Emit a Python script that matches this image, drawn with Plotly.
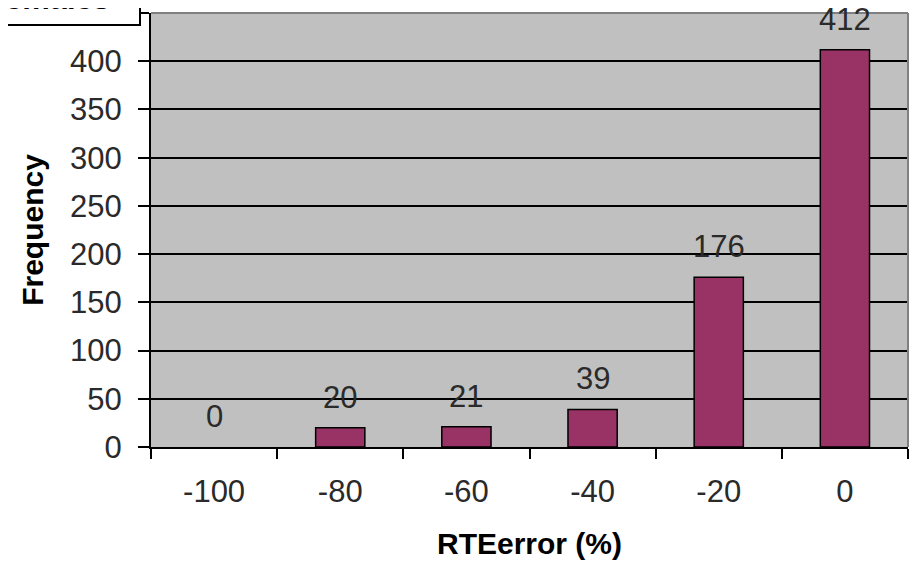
import plotly.graph_objects as go

categories = ["-100", "-80", "-60", "-40", "-20", "0"]
frequency = [0, 20, 21, 39, 176, 412]
y_tickvals = [0, 50, 100, 150, 200, 250, 300, 350, 400, 450]
y_ticktext = [str(v) for v in y_tickvals]
box_label = "Females"
x_title = "RTEerror (%)"
y_title = "Frequency"

# page has an 8px body margin; the figure is sized to fill the rest of the window
W, H = 909, 555
L, R, T, B = 143, 9, 5, 116
pw, ph = W - L - R, H - T - B

def px_x(p):
    return (p - L) / pw

def px_y(p):
    return (H - B - p) / ph

FONT = "Liberation Sans, Arial, sans-serif"
TXT = "#2a2a2a"

fig = go.Figure()
fig.add_trace(go.Bar(
    x=categories, y=frequency,
    marker=dict(color="#993366",
                line=dict(color="black", width=[0 if v == 0 else 1.5 for v in frequency])),
    hoverinfo="x+y",
))

annotations = []
for i, v in enumerate(frequency):
    annotations.append(dict(
        x=i, y=v, xref="x", yref="y", text=str(v), showarrow=False,
        yanchor="bottom", yshift=11,
        font=dict(family=FONT, size=31, color=TXT),
    ))

annotations.append(dict(
    x=px_x(104), y=px_y(10), xref="paper", yref="paper", text=box_label,
    showarrow=False, xanchor="right", yanchor="bottom",
    font=dict(family=FONT, size=31, color="black", weight="bold"),
))

shapes = [
    dict(type="line", xref="paper", yref="paper", x0=0, x1=1, y0=1, y1=1,
         line=dict(color="#808080", width=2), layer="above"),
    dict(type="line", xref="paper", yref="paper", x0=1, x1=1, y0=0, y1=1,
         line=dict(color="#808080", width=2), layer="above"),
    dict(type="rect", xref="paper", yref="paper",
         x0=px_x(-20), x1=px_x(132), y0=px_y(17), y1=px_y(-30),
         fillcolor="white", line=dict(color="black", width=2), layer="above"),
]

fig.update_layout(
    width=W, height=H,
    margin=dict(l=L, r=R, t=T, b=B, autoexpand=False),
    paper_bgcolor="white",
    plot_bgcolor="#C0C0C0",
    bargap=0.61,
    showlegend=False,
    annotations=annotations,
    shapes=shapes,
    font=dict(family=FONT, size=31, color=TXT),
    xaxis=dict(
        type="category",
        range=[-0.5, 5.5],
        tickson="boundaries",
        ticks="outside", ticklen=10, tickwidth=2, tickcolor="black",
        showline=True, linecolor="black", linewidth=2,
        showgrid=False,
        tickfont=dict(family=FONT, size=31, color=TXT),
        ticklabelstandoff=16,
        title=dict(text=x_title, standoff=25,
                   font=dict(family=FONT, size=30, color="black", weight="bold")),
        automargin=False,
        fixedrange=True,
    ),
    yaxis=dict(
        range=[0, 450],
        tickvals=y_tickvals, ticktext=y_ticktext,
        ticks="outside", ticklen=11, tickwidth=2, tickcolor="black",
        showline=True, linecolor="black", linewidth=2,
        showgrid=True, gridcolor="black", gridwidth=2,
        zeroline=False,
        tickfont=dict(family=FONT, size=31, color=TXT),
        ticklabelstandoff=10,
        title=dict(text=y_title, standoff=18,
                   font=dict(family=FONT, size=30, color="black", weight="bold")),
        automargin=False,
        fixedrange=True,
    ),
)

fig.write_html("out.html")
